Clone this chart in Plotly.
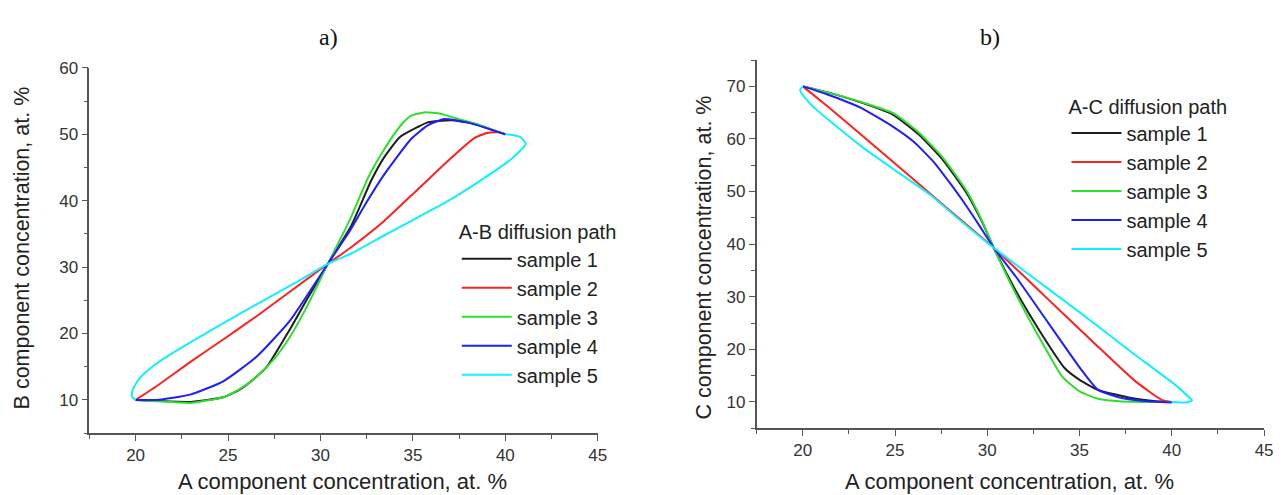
import plotly.graph_objects as go

# ---------------- data: A-B diffusion path (panel a) ----------------
samples = ["sample 1", "sample 2", "sample 3", "sample 4", "sample 5"]
colors = ["#1e1e1e", "#ff2020", "#2ee02e", "#1e1eff", "#10f0ff"]

ab_s1_x = [20, 21.15, 22.95, 24.74, 25.6, 26.54, 27.1, 28.34, 29.24, 30.4, 31.66, 32.74, 33.46, 34.3, 35.26, 35.8, 37.05, 38.3, 40]
ab_s1_y = [10, 9.85, 9.7, 10.4, 11.5, 13.5, 15.0, 20.6, 25.0, 30.5, 36.2, 43.0, 46.6, 49.6, 51.1, 51.8, 52.1, 51.6, 50]

ab_s2_x = [20, 21.15, 22.95, 24.74, 26.54, 28.34, 30.4, 31.66, 33.46, 35.26, 37.05, 38.3, 39.0, 39.6, 40]
ab_s2_y = [10, 12.1, 15.7, 19.1, 22.6, 26.3, 30.5, 33.0, 37.0, 41.7, 46.4, 49.4, 50.2, 50.3, 50]

ab_s3_x = [20, 21.15, 22.95, 24.74, 25.6, 26.54, 27.44, 28.34, 29.24, 30.4, 31.6, 32.6, 33.46, 34.36, 34.9, 35.6, 36.5, 37.23, 38.5, 40]
ab_s3_y = [10, 9.8, 9.55, 10.4, 11.6, 13.5, 16.0, 19.45, 23.9, 30.5, 37.2, 43.6, 47.8, 51.4, 52.8, 53.3, 53.1, 52.5, 51.5, 50]

ab_s4_x = [20, 21.15, 22.95, 24.74, 26.54, 28.34, 30.4, 31.66, 32.5, 33.46, 34.9, 35.8, 36.7, 37.95, 40]
ab_s4_y = [10, 10.0, 10.8, 12.8, 16.5, 21.9, 30.5, 35.8, 39.8, 44.0, 49.3, 51.35, 52.3, 51.8, 50]

ab_s5_x = [20, 19.8, 19.85, 20.2, 20.9, 21.9, 23.4, 25.2, 27.0, 28.8, 30.4, 31.66, 33.46, 35.26, 37.05, 38.85, 40.29, 41.0, 41.1, 40.8, 40.1, 40]
ab_s5_y = [10, 10.5, 11.6, 13.2, 15.0, 16.9, 19.4, 22.3, 25.1, 27.9, 30.5, 32.05, 34.8, 37.5, 40.2, 43.4, 46.2, 48.1, 48.6, 49.6, 50.0, 50]

# ---------------- data: A-C diffusion path (panel b) ----------------
ac_s1_x = [20, 21.3, 23.1, 24.9, 26.3, 27.6, 28.9, 29.75, 30.35, 31.55, 33.0, 34.2, 35.0, 36.0, 37.8, 39.0, 40]
ac_s1_y = [70, 68.9, 67.0, 64.6, 60.8, 56.0, 49.6, 44.0, 39.3, 31.1, 22.6, 16.4, 14.2, 12.3, 10.75, 10.2, 10]

ac_s2_x = [20, 21.3, 23.1, 24.9, 27.6, 30.35, 33.0, 35.7, 38.0, 39.45, 40]
ac_s2_y = [70, 66.3, 61.0, 55.6, 47.5, 39.3, 30.5, 21.5, 14.0, 10.4, 10]

ac_s3_x = [20, 21.3, 23.1, 24.9, 26.3, 27.6, 28.9, 29.75, 30.35, 31.55, 33.0, 34.06, 35.0, 36.0, 37.3, 40]
ac_s3_y = [70, 68.9, 67.1, 64.9, 61.2, 56.4, 50.0, 44.2, 39.3, 30.5, 21.1, 14.8, 12.0, 10.6, 10.1, 10]

ac_s4_x = [20, 21.3, 23.1, 24.9, 26.0, 27.1, 28.0, 28.7, 29.5, 30.35, 31.55, 33.35, 35.1, 36.0, 37.3, 38.5, 40]
ac_s4_y = [70, 68.5, 66.0, 62.3, 59.5, 55.6, 51.5, 48.1, 43.9, 39.3, 33.8, 24.8, 16.1, 12.3, 10.75, 10.2, 9.9]

ac_s5_x = [20, 19.85, 20.1, 20.6, 21.5, 23.25, 25.1, 26.9, 28.6, 30.35, 33.0, 35.1, 37.8, 40.2, 40.9, 41.1, 40.8, 40]
ac_s5_y = [70, 69.3, 67.9, 66.0, 63.3, 58.4, 53.8, 49.4, 44.3, 39.3, 32.3, 26.8, 19.5, 13.2, 11.0, 10.3, 9.9, 10]

ab_x = [ab_s1_x, ab_s2_x, ab_s3_x, ab_s4_x, ab_s5_x]
ab_y = [ab_s1_y, ab_s2_y, ab_s3_y, ab_s4_y, ab_s5_y]
ac_x = [ac_s1_x, ac_s2_x, ac_s3_x, ac_s4_x, ac_s5_x]
ac_y = [ac_s1_y, ac_s2_y, ac_s3_y, ac_s4_y, ac_s5_y]

x_ticks = [20, 25, 30, 35, 40, 45]
ab_y_ticks = [10, 20, 30, 40, 50, 60]
ac_y_ticks = [10, 20, 30, 40, 50, 60, 70]

fig = go.Figure()
for i in range(5):
    fig.add_trace(go.Scatter(x=ab_x[i], y=ab_y[i], mode="lines", name=samples[i],
                             line=dict(color=colors[i], width=2, shape="spline", smoothing=0.5),
                             xaxis="x", yaxis="y", legend="legend"))
for i in range(5):
    fig.add_trace(go.Scatter(x=ac_x[i], y=ac_y[i], mode="lines", name=samples[i],
                             line=dict(color=colors[i], width=2, shape="spline", smoothing=0.5),
                             xaxis="x2", yaxis="y2", legend="legend2"))

W, H = 1285, 495
FONT = "Liberation Sans, Arial"
axis_common = dict(showgrid=False, zeroline=False, showline=True, linecolor="#555", linewidth=1.5,
                   ticks="outside", tickcolor="#555", ticklen=6, tickwidth=1.2,
                   tickfont=dict(family=FONT, size=17, color="#333"),
                   mirror=False)
minor_x = dict(ticks="outside", ticklen=4, tickcolor="#555", dtick=2.5, tick0=17.5)
minor_y = dict(ticks="outside", ticklen=4, tickcolor="#555", dtick=5, tick0=5)
leg_font = dict(family=FONT, size=20, color="#222")

fig.update_layout(
    width=W, height=H,
    margin=dict(l=0, r=0, t=0, b=0),
    paper_bgcolor="white", plot_bgcolor="white",
    xaxis=dict(domain=[90 / W, 602 / W], range=[17.5, 45], tickvals=x_ticks,
               minor=minor_x, anchor="y", **axis_common),
    yaxis=dict(domain=[(H - 432) / H, (H - 60) / H], range=[5, 60], tickvals=ab_y_ticks,
               minor=minor_y, anchor="x", **axis_common),
    xaxis2=dict(domain=[762 / W, 1273 / W], range=[17.5, 45], tickvals=x_ticks,
                minor=minor_x, anchor="y2", **axis_common),
    yaxis2=dict(domain=[(H - 427) / H, (H - 52) / H], range=[5, 75], tickvals=ac_y_ticks,
                minor=minor_y, anchor="x2", **axis_common),
    legend=dict(x=460 / W, y=(H - 208) / H, xanchor="left", yanchor="top",
                bgcolor="rgba(0,0,0,0)", borderwidth=0, itemwidth=50,
                font=leg_font, title=dict(text="A-B diffusion path", font=leg_font),
                tracegroupgap=0),
    legend2=dict(x=1074 / W, y=(H - 80) / H, xanchor="left", yanchor="top",
                 bgcolor="rgba(0,0,0,0)", borderwidth=0, itemwidth=50,
                 font=leg_font, title=dict(text="A-C diffusion path", font=leg_font),
                 tracegroupgap=0),
    showlegend=True,
)

title_font = dict(family=FONT, size=22, color="#222")
ytitle_font = dict(family=FONT, size=21.5, color="#222")
serif_font = dict(family="Liberation Serif, Times New Roman", size=24, color="#111")
annotations = [
    dict(text="a)", x=331 / W, y=(H - 29) / H, font=serif_font),
    dict(text="b)", x=997 / W, y=(H - 29) / H, font=serif_font),
    dict(text="A component concentration, at. %", x=345 / W, y=(H - 481) / H, font=title_font),
    dict(text="A component concentration, at. %", x=1017 / W, y=(H - 481) / H, font=title_font),
    dict(text="B component concentration, at. %", x=22 / W, y=(H - 243) / H, textangle=-90, font=ytitle_font),
    dict(text="C component concentration, at. %", x=709 / W, y=(H - 253) / H, textangle=-90, font=ytitle_font),
]
for a in annotations:
    a.update(xref="paper", yref="paper", showarrow=False, xanchor="center", yanchor="middle")
fig.update_layout(annotations=annotations)

fig.write_html("out.html")
